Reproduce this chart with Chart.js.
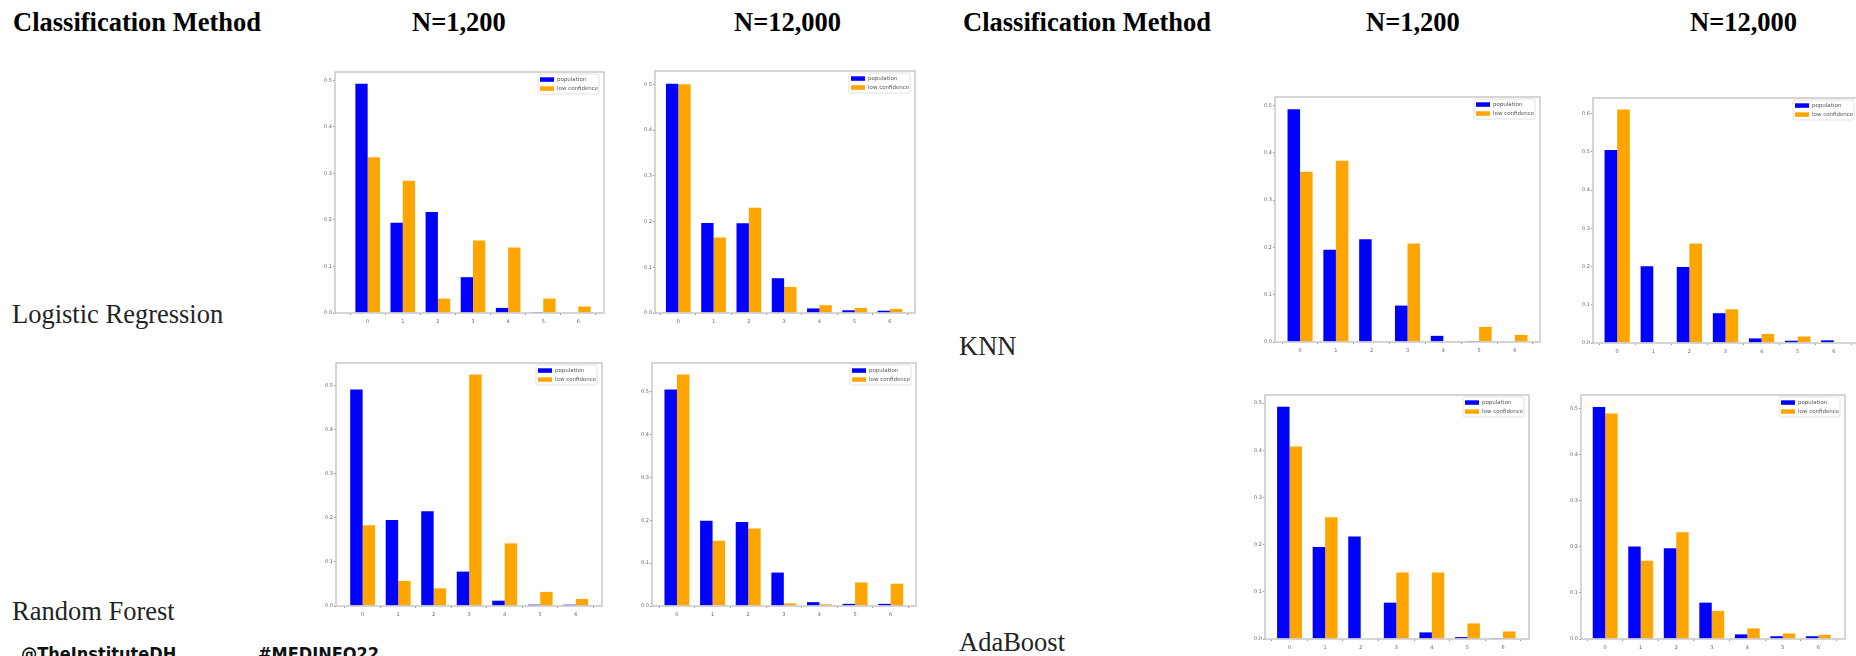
<!DOCTYPE html>
<html>
<head>
<meta charset="utf-8">
<script src="https://cdn.jsdelivr.net/npm/chart.js@4.4.0/dist/chart.umd.min.js"></script>
<style>
  html, body { margin: 0; padding: 0; background: #fff; }
  body { width: 1856px; height: 656px; overflow: hidden; position: relative; }
  .lbl { position: absolute; font-family: "Liberation Serif", "Times New Roman", serif; font-size: 26.5px; line-height: 1; white-space: nowrap; color: #242424; }
  .hdr { font-weight: bold; color: #000; }
  .foot { position: absolute; font-family: "Liberation Sans Narrow", "DejaVu Sans Condensed", sans-serif; font-weight: bold; font-size: 18px; line-height: 1; color: #111; white-space: nowrap; }
  canvas { position: absolute; }
</style>
</head>
<body>
<div class="lbl hdr" style="left:13px;top:9px">Classification Method</div>
<div class="lbl hdr" style="left:412px;top:9px">N=1,200</div>
<div class="lbl hdr" style="left:734px;top:9px">N=12,000</div>
<div class="lbl hdr" style="left:963px;top:9px">Classification Method</div>
<div class="lbl hdr" style="left:1366px;top:9px">N=1,200</div>
<div class="lbl hdr" style="left:1690px;top:9px">N=12,000</div>

<div class="lbl" style="left:12px;top:301px">Logistic Regression</div>
<div class="lbl" style="left:12px;top:598px">Random Forest</div>
<div class="lbl" style="left:959px;top:333px">KNN</div>
<div class="lbl" style="left:959px;top:629px">AdaBoost</div>

<div class="foot" style="left:21px;top:645px">@TheInstituteDH</div>
<div class="foot" style="left:258px;top:645px">#MEDINFO22</div>

<script>
// number of classes on the x axis
const categories = [0, 1, 2, 3, 4, 5, 6];
const seriesNames = ['population', 'low confidence'];

// Logistic Regression
const lr1200Population = [0.493, 0.194, 0.217, 0.077, 0.011, 0.002, 0.001];
const lr1200LowConf    = [0.335, 0.284, 0.031, 0.156, 0.141, 0.031, 0.014];
const lr12000Population = [0.501, 0.197, 0.196, 0.076, 0.010, 0.006, 0.005];
const lr12000LowConf    = [0.500, 0.165, 0.230, 0.057, 0.017, 0.011, 0.009];

// Random Forest
const rf1200Population = [0.491, 0.195, 0.215, 0.078, 0.012, 0.003, 0.003];
const rf1200LowConf    = [0.183, 0.057, 0.040, 0.525, 0.142, 0.032, 0.016];
const rf12000Population = [0.505, 0.199, 0.196, 0.078, 0.009, 0.005, 0.005];
const rf12000LowConf    = [0.540, 0.152, 0.181, 0.006, 0.004, 0.055, 0.052];

// KNN
const knn1200Population = [0.492, 0.195, 0.217, 0.077, 0.013, 0.002, 0.001];
const knn1200LowConf    = [0.360, 0.383, 0, 0.208, 0, 0.032, 0.015];
const knn12000Population = [0.505, 0.201, 0.199, 0.078, 0.012, 0.006, 0.007];
const knn12000LowConf    = [0.611, 0, 0.260, 0.088, 0.024, 0.017, 0];

// AdaBoost
const ada1200Population = [0.492, 0.195, 0.217, 0.077, 0.014, 0.004, 0.002];
const ada1200LowConf    = [0.408, 0.258, 0, 0.141, 0.141, 0.033, 0.016];
const ada12000Population = [0.504, 0.201, 0.197, 0.079, 0.010, 0.006, 0.006];
const ada12000LowConf    = [0.490, 0.170, 0.232, 0.061, 0.023, 0.012, 0.009];

const PL = 24, PR = 4, PT = 3, PB = 14;

// frame round the plot + small legend in the top right corner
const framePlugin = {
    id: 'frame',
    afterDatasetsDraw(chart) {
        const { ctx, chartArea: a } = chart;
        ctx.save();
        ctx.strokeStyle = '#c8c8c8';
        ctx.lineWidth = 1.5;
        ctx.strokeRect(a.left, a.top, a.right - a.left, a.bottom - a.top);

        const w = 61, h = 20;
        const x = a.right - w - 5, y = a.top + 2;
        ctx.fillStyle = 'rgba(255,255,255,0.85)';
        ctx.strokeStyle = '#e2e2e2';
        ctx.lineWidth = 1;
        ctx.beginPath();
        ctx.roundRect(x, y, w, h, 2);
        ctx.fill();
        ctx.stroke();
        ctx.font = '5.5px "DejaVu Sans"';
        ctx.textBaseline = 'middle';
        chart.data.datasets.forEach((ds, i) => {
            const ry = y + 5.5 + i * 9;
            ctx.fillStyle = ds.backgroundColor;
            ctx.fillRect(x + 2, ry - 2.2, 14, 4.5);
            ctx.fillStyle = '#555';
            ctx.fillText(ds.label, x + 19, ry);
        });
        ctx.restore();
    }
};

function makeChart(frame, pop, low, ymax, xmin, xmax) {
    const canvas = document.createElement('canvas');
    const w = frame.r - frame.l + PL + PR;
    const h = frame.b - frame.t + PT + PB;
    canvas.width = w;
    canvas.height = h;
    canvas.style.width = w + 'px';
    canvas.style.height = h + 'px';
    canvas.style.left = (frame.l - PL) + 'px';
    canvas.style.top = (frame.t - PT) + 'px';
    document.body.appendChild(canvas);

    const tickFont = { size: 5, family: 'DejaVu Sans' };
    new Chart(canvas.getContext('2d'), {
        type: 'bar',
        data: {
            datasets: [
                {
                    label: seriesNames[0],
                    data: categories.map((c, i) => ({ x: c, y: pop[i] })),
                    backgroundColor: '#0000ff',
                    categoryPercentage: 0.7,
                    barPercentage: 1
                },
                {
                    label: seriesNames[1],
                    data: categories.map((c, i) => ({ x: c, y: low[i] })),
                    backgroundColor: '#ffa500',
                    categoryPercentage: 0.7,
                    barPercentage: 1
                }
            ]
        },
        options: {
            responsive: false,
            animation: false,
            devicePixelRatio: 1,
            layout: { padding: { top: PT, right: PR, left: 0, bottom: 0 } },
            plugins: { legend: { display: false }, tooltip: { enabled: false } },
            scales: {
                x: {
                    type: 'linear',
                    min: xmin,
                    max: xmax,
                    offset: false,
                    ticks: { stepSize: 1, includeBounds: false, font: tickFont, color: '#666', padding: 4, maxRotation: 0, autoSkip: false },
                    grid: { drawOnChartArea: false, drawTicks: true, tickLength: 2, color: '#999' },
                    border: { display: false },
                    afterFit(s) { s.height = PB; }
                },
                y: {
                    min: 0,
                    max: ymax,
                    ticks: { stepSize: 0.1, includeBounds: false, font: tickFont, color: '#666', padding: 1, callback: v => v.toFixed(1) },
                    grid: { drawOnChartArea: false, drawTicks: true, tickLength: 2, color: '#999' },
                    border: { display: false },
                    afterFit(s) { s.width = PL; }
                }
            }
        },
        plugins: [framePlugin]
    });
}

makeChart({ l: 335, t: 71, r: 604, b: 313 }, lr1200Population, lr1200LowConf, 0.518, -0.93, 6.73);
makeChart({ l: 655, t: 70, r: 915, b: 313 }, lr12000Population, lr12000LowConf, 0.529, -0.66, 6.71);
makeChart({ l: 336, t: 362, r: 602, b: 606 }, rf1200Population, rf1200LowConf, 0.551, -0.75, 6.74);
makeChart({ l: 652, t: 362, r: 916, b: 606 }, rf12000Population, rf12000LowConf, 0.567, -0.70, 6.71);
makeChart({ l: 1275, t: 96, r: 1540, b: 342 }, knn1200Population, knn1200LowConf, 0.518, -0.70, 6.70);
makeChart({ l: 1593, t: 97, r: 1859, b: 343 }, knn12000Population, knn12000LowConf, 0.641, -0.67, 6.70);
makeChart({ l: 1265, t: 394, r: 1529, b: 639 }, ada1200Population, ada1200LowConf, 0.517, -0.69, 6.73);
makeChart({ l: 1581, t: 394, r: 1845, b: 639 }, ada12000Population, ada12000LowConf, 0.530, -0.68, 6.75);
</script>
</body>
</html>
